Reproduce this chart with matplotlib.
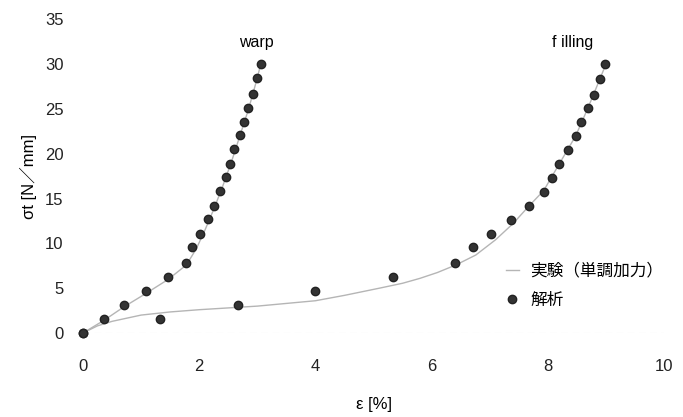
import matplotlib
matplotlib.use('Agg')
import matplotlib.pyplot as plt

# ── datos ──
# warp: análisis (puntos) y experimento (línea)
warp_x = [0, 0.37, 0.71, 1.08, 1.47, 1.78, 1.87, 2.02, 2.15, 2.26,
          2.35, 2.46, 2.53, 2.60, 2.71, 2.77, 2.84, 2.92, 2.99, 3.06]
warp_y = [0, 1.55, 3.1, 4.65, 6.25, 7.8, 9.6, 11.1, 12.7, 14.2,
          15.8, 17.4, 18.9, 20.5, 22.05, 23.6, 25.1, 26.7, 28.5, 30]
warp_exp_x = [0, 0.37, 0.7, 1.08, 1.47, 1.78, 1.95, 2.1, 2.25, 2.4,
              2.55, 2.7, 2.85, 2.98, 3.06]
warp_exp_y = [0, 1.45, 2.9, 4.4, 6.0, 7.6, 9.4, 11.5, 13.8, 16.3,
              19.0, 22.0, 25.0, 28.0, 30.0]

# filling
fill_x = [0, 1.32, 2.66, 4.0, 5.34, 6.40, 6.72, 7.03, 7.37, 7.68,
          7.93, 8.07, 8.20, 8.34, 8.48, 8.58, 8.69, 8.79, 8.90, 8.99]
fill_y = [0, 1.6, 3.1, 4.65, 6.2, 7.78, 9.55, 11.1, 12.65, 14.2,
          15.7, 17.3, 18.85, 20.4, 21.95, 23.5, 25.1, 26.6, 28.4, 30]
fill_exp_x = [0, 0.25, 0.5, 1.0, 1.5, 2.0, 3.0, 4.0, 4.5, 5.1, 5.5, 5.8,
              6.1, 6.42, 6.76, 7.1, 7.4, 7.68, 7.93, 8.2, 8.48, 8.69,
              8.9, 9.0]
fill_exp_y = [0, 0.8, 1.3, 2.0, 2.35, 2.6, 3.0, 3.6, 4.2, 5.0, 5.55, 6.1,
              6.75, 7.6, 8.7, 10.4, 12.2, 14.2, 15.9, 18.9, 22.0, 25.1,
              28.4, 30.0]

x_ticks = [0, 2, 4, 6, 8, 10]
y_ticks = [0, 5, 10, 15, 20, 25, 30, 35]

fuente = ['Liberation Sans', 'Noto Sans CJK JP', 'DejaVu Sans']
plt.rcParams['font.family'] = fuente

fig = plt.figure(figsize=(6.83, 4.17), dpi=100)
ax = fig.add_axes([83 / 683, 1 - 333 / 417, 581 / 683, 313.6 / 417])

linea_color = '#b5b5b5'
punto_color = '#333333'

ax.plot(warp_exp_x, warp_exp_y, color=linea_color, lw=1.0,
        label='実験（単調加力）', zorder=2)
ax.plot(fill_exp_x, fill_exp_y, color=linea_color, lw=1.0, zorder=2)
ax.plot(warp_x, warp_y, 'o', color=punto_color, ms=6, mec='#222222',
        label='解析', zorder=3, clip_on=False)
ax.plot(fill_x, fill_y, 'o', color=punto_color, ms=6, mec='#222222',
        zorder=3, clip_on=False)

ax.text(2.99, 32.4, 'warp', ha='center', va='center', fontsize=11.5)
ax.text(8.43, 32.4, 'f illing', ha='center', va='center', fontsize=11.5)

ax.set_xlim(0, 10)
ax.set_ylim(0, 35)
ax.set_xticks(x_ticks)
ax.set_yticks(y_ticks)
ax.tick_params(axis='x', length=0, pad=19, labelsize=12, colors='#222222')
ax.tick_params(axis='y', length=0, pad=14, labelsize=12, colors='#222222')

for s in ax.spines.values():
    s.set_visible(False)
ax.axhline(0, color='#e6e6e6', lw=0.8, ls=(0, (6, 4)), zorder=1)

ax.set_xlabel('ε [%]', fontsize=12, labelpad=16)
ax.set_ylabel('σt [N／mm]', fontsize=12, labelpad=6)

leg = ax.legend(loc='upper left', bbox_to_anchor=(0.716, 0.245), frameon=False,
                handlelength=0.8, handletextpad=0.7, fontsize=12,
                labelspacing=0.85, borderaxespad=0)

fig.savefig('out.png', dpi=100)
